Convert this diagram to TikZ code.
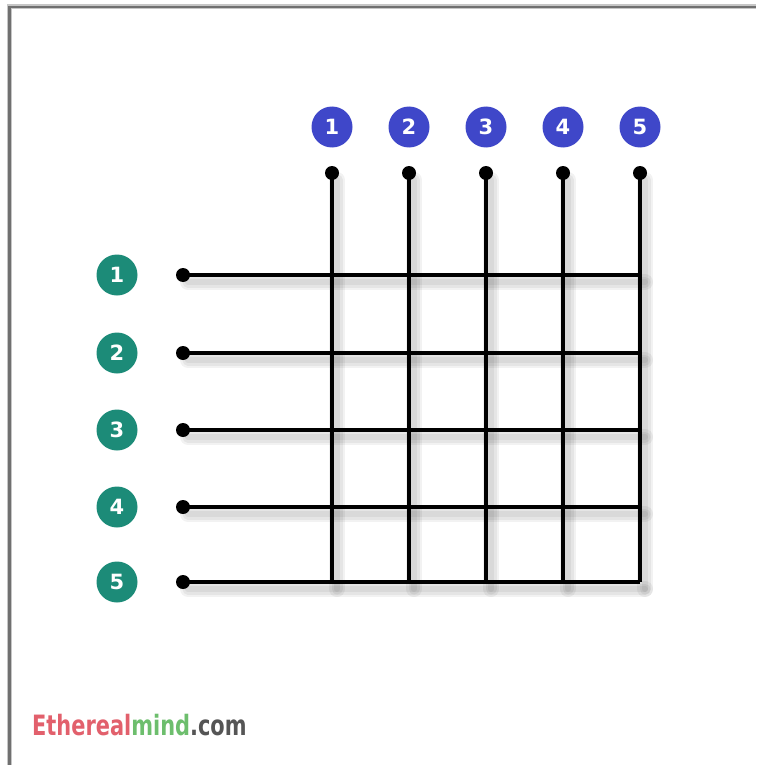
\documentclass[tikz,border=0pt]{standalone}
\usepackage{fontspec}
\setmainfont{DejaVu Sans}
\newfontfamily\logofont{DejaVu Sans Condensed}
\definecolor{topblue}{HTML}{3F47C9}
\definecolor{rowgreen}{HTML}{1C8B78}
\definecolor{logored}{HTML}{E2606C}
\definecolor{logogreen}{HTML}{6DBE6D}
\definecolor{logogray}{HTML}{555555}
\definecolor{framegray}{HTML}{707070}
\tikzset{
  numtop/.style={circle, fill=topblue, text=white, font=\bfseries\fontsize{21}{21}\selectfont, minimum size=41pt, inner sep=0pt},
  numrow/.style={circle, fill=rowgreen, text=white, font=\bfseries\fontsize{21}{21}\selectfont, minimum size=41pt, inner sep=0pt},
  pin/.style={circle, fill=black, minimum size=14pt, inner sep=0pt},
  wire/.style={line width=3.4pt, black},
  shade/.style={line width=#1, black, opacity=0.05, line cap=round},
}
\begin{document}
\begin{tikzpicture}[x=1pt, y=-1pt]
\useasboundingbox (0,0) rectangle (756,765);
\fill[white] (0,0) rectangle (756,765);
% frame
\draw[framegray!40, line width=5pt] (9,765) -- (9,7) -- (756,7);
\draw[framegray, line width=2.5pt] (9.5,765) -- (9.5,7) -- (756,7);
% positions
\foreach \i/\x in {1/332,2/409,3/486,4/563,5/640}{
  \node[numtop] (c\i) at (\x,127) {\i};
  \coordinate (b\i) at (\x,582);
}
\foreach \j/\y in {1/275,2/353,3/430,4/507,5/582}{
  \node[numrow] (r\j) at (117,\y) {\j};
  \coordinate (e\j) at (640,\y);
}
% shadows
\begin{scope}[shift={(5,7)}]
\foreach \w in {16,11,6}{
  \foreach \i/\x in {1/332,2/409,3/486,4/563,5/640}{
    \draw[shade=\w pt] (\x,173) -- (\x,582);
  }
  \foreach \j/\y in {1/275,2/353,3/430,4/507,5/582}{
    \draw[shade=\w pt] (183,\y) -- (640,\y);
  }
}
\end{scope}
% pins
\foreach \i/\x in {1/332,2/409,3/486,4/563,5/640}{
  \node[pin] (t\i) at (\x,173) {};
}
\foreach \j/\y in {1/275,2/353,3/430,4/507,5/582}{
  \node[pin] (l\j) at (183,\y) {};
}
% wires
\foreach \i in {1,...,5}{
  \draw[wire] (t\i.center) -- (b\i);
}
\foreach \j in {1,...,5}{
  \draw[wire] (l\j.center) -- (e\j);
}
% logo
\node[anchor=west, inner sep=0pt, font=\logofont\bfseries\fontsize{28}{28}\selectfont] (logo) at (32,725)
  {\scalebox{0.83}[1]{\textcolor{logored}{Ethereal}\textcolor{logogreen}{mind}\textcolor{logogray}{.com}}};
\end{tikzpicture}
\end{document}
